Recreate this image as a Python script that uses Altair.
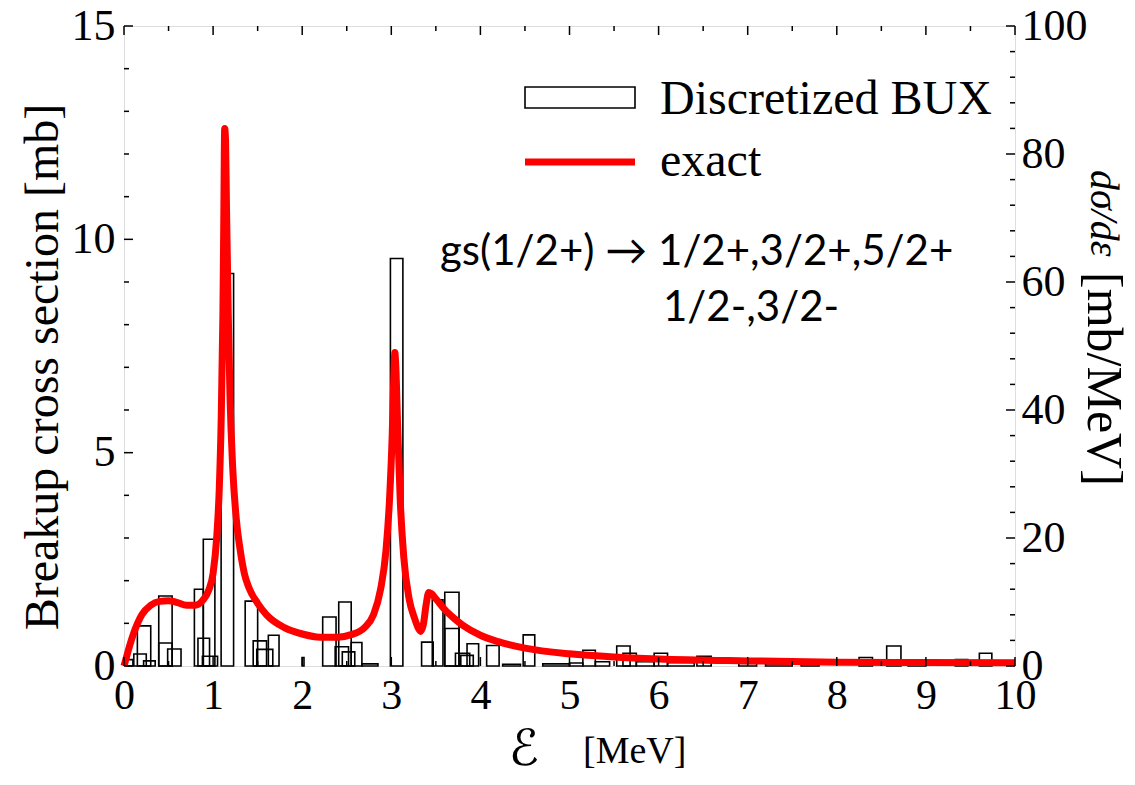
import altair as alt
import pandas as pd

# ---------------- data ----------------
bar_lo = [0.03, 0.11, 0.15, 0.22, 0.39, 0.39, 0.49, 0.79, 0.83, 0.88, 0.89, 1.09,
          1.36, 1.45, 1.49, 1.62, 2.00, 2.23, 2.37, 2.41, 2.45, 2.55, 2.67, 2.99,
          3.34, 3.46, 3.60, 3.60, 3.72, 3.78, 3.85, 4.07, 4.25, 4.48, 4.70, 5.00,
          5.15, 5.29, 5.53, 5.60, 5.75, 5.95, 6.10, 6.43, 6.90, 7.20, 7.60, 8.25,
          8.56, 8.80, 9.33, 9.60]
bar_hi = [0.10, 0.25, 0.30, 0.35, 0.54, 0.54, 0.64, 0.89, 0.96, 1.05, 1.02, 1.23,
          1.50, 1.60, 1.67, 1.74, 2.02, 2.38, 2.52, 2.55, 2.59, 2.67, 2.85, 3.13,
          3.47, 3.58, 3.76, 3.76, 3.88, 3.92, 3.98, 4.21, 4.45, 4.61, 5.00, 5.15,
          5.29, 5.45, 5.68, 5.75, 5.95, 6.10, 6.40, 6.59, 7.10, 7.50, 7.80, 8.40,
          8.72, 9.00, 9.47, 9.74]
bar_h = [0.15, 0.28, 0.94, 0.12, 1.64, 0.54, 0.40, 1.80, 0.65, 0.23, 2.97, 9.20,
         1.52, 0.59, 0.39, 0.72, 0.20, 1.15, 0.45, 1.50, 0.33, 0.55, 0.05, 9.55,
         0.56, 1.55, 1.73, 0.88, 0.30, 0.25, 0.52, 0.48, 0.04, 0.73, 0.05, 0.07,
         0.37, 0.10, 0.47, 0.30, 0.10, 0.30, 0.08, 0.23, 0.06, 0.05, 0.04, 0.20,
         0.47, 0.05, 0.15, 0.30]

curve_e = [0.0, 0.03, 0.06, 0.1, 0.15, 0.2, 0.3, 0.4, 0.5, 0.6, 0.7, 0.8, 0.88, 0.95,
           1.0, 1.04, 1.07, 1.09, 1.11, 1.12, 1.13, 1.14, 1.15, 1.17, 1.19, 1.22, 1.26,
           1.3, 1.35, 1.4, 1.5, 1.6, 1.8, 2.0, 2.2, 2.4, 2.55, 2.7, 2.8, 2.88, 2.94,
           2.98, 3.01, 3.03, 3.04, 3.05, 3.07, 3.1, 3.14, 3.2, 3.26, 3.3, 3.33, 3.36,
           3.39, 3.42, 3.45, 3.5, 3.6, 3.7, 3.8, 4.0, 4.2, 4.5, 5.0, 5.5, 6.0, 7.0,
           8.0, 9.0, 10.0]
curve_v = [0.0, 1.5, 3.0, 4.8, 6.6, 8.0, 9.5, 10.1, 10.2, 9.9, 9.5, 9.5, 10.2, 11.8,
           14.5, 20, 28, 38, 55, 70, 84, 82, 72, 55, 42, 31, 23,
           18.5, 14.5, 12.3, 9.8, 8.0, 6.0, 5.0, 4.5, 4.5, 4.9, 6.0, 8.0, 12, 18,
           26, 36, 46, 49, 47, 38, 26, 17, 10.5, 7.5, 6.0, 5.4, 6.5,
           9.5, 11.5, 11.3, 10.5, 8.8, 7.5, 6.4, 4.8, 3.8, 2.8, 1.9, 1.4, 1.1, 0.8,
           0.6, 0.55, 0.5]

x_major = [0, 1, 2, 3, 4, 5, 6, 7, 8, 9, 10]
x_minor = [0.5, 1.5, 2.5, 3.5, 4.5, 5.5, 6.5, 7.5, 8.5, 9.5]
yl_major = [0, 5, 10, 15]
yl_minor = [1, 2, 3, 4, 6, 7, 8, 9, 11, 12, 13, 14]
yr_major = [0, 20, 40, 60, 80, 100]
yr_minor = [4, 8, 12, 16, 24, 28, 32, 36, 44, 48, 52, 56, 64, 68, 72, 76, 84, 88, 92, 96]

W, H = 891, 640
SERIF = "Liberation Serif"
FSX = 42
FSY = 44
FST = 48

bars = pd.DataFrame({"lo": bar_lo, "hi": bar_hi, "h": bar_h})
curve = pd.DataFrame({"e": curve_e, "v": curve_v})

xsc = alt.Scale(domain=[0, 10], nice=False, zero=False)
ylsc = alt.Scale(domain=[0, 15], nice=False)
yrsc = alt.Scale(domain=[0, 100], nice=False)

bar_layer = alt.Chart(bars).mark_rect(fill="transparent", stroke="black", strokeWidth=1.6).encode(
    x=alt.X("lo:Q", scale=xsc, axis=alt.Axis(values=x_major, format="d", ticks=False, domain=False,
                                               grid=False, title=None, labelFont=SERIF, labelFontSize=FSX,
                                               labelColor="black", labelPadding=9, labelFlush=False)),
    x2="hi:Q",
    y=alt.Y("h:Q", scale=ylsc, axis=alt.Axis(values=yl_major, format="d", ticks=False, domain=False,
                                              grid=False, title=None, labelFont=SERIF, labelFontSize=FSY,
                                              labelColor="black", labelPadding=9, labelFlush=False)),
    y2=alt.datum(0),
)

line_layer = alt.Chart(curve).mark_line(color="#ff0000", strokeWidth=7, interpolate="monotone").encode(
    x=alt.X("e:Q", scale=xsc),
    y=alt.Y("v:Q", scale=yrsc, axis=alt.Axis(orient="right", values=yr_major, format="d", ticks=False,
                                              domain=False, grid=False, title=None, labelFont=SERIF,
                                              labelFontSize=FSY, labelColor="black", labelPadding=6,
                                              labelFlush=False)),
)

def xticks(vals, length):
    df = pd.DataFrame({"t": vals})
    bottom = alt.Chart(df).mark_rule(color="black", strokeWidth=1.5).encode(
        x=alt.X("t:Q", scale=xsc), y=alt.value(H), y2=alt.value(H - length))
    top = alt.Chart(df).mark_rule(color="black", strokeWidth=1.5).encode(
        x=alt.X("t:Q", scale=xsc), y=alt.value(0), y2=alt.value(length))
    return [bottom, top]

def yticks(vals, length, sc, right):
    df = pd.DataFrame({"t": vals})
    if right:
        xs = dict(x=alt.value(W), x2=alt.value(W - length))
    else:
        xs = dict(x=alt.value(0), x2=alt.value(length))
    return alt.Chart(df).mark_rule(color="black", strokeWidth=1.5).encode(
        y=alt.Y("t:Q", scale=sc, axis=None), **xs)

tick_layers = (xticks(x_major, 9) + xticks(x_minor, 5) +
               [yticks(yl_major, 9, ylsc, False), yticks(yl_minor, 5, ylsc, False),
                yticks(yr_major, 9, yrsc, True), yticks(yr_minor, 5, yrsc, True)])

one = pd.DataFrame({"a": [0]})

def txt(text, x, y, font=SERIF, size=FST, align="left", angle=0, style="normal", baseline="middle"):
    kw = dict(font=font, fontSize=size, align=align, baseline=baseline, color="black",
              fontStyle=style, text=text)
    if angle:
        kw["angle"] = angle
    return alt.Chart(one).mark_text(**kw).encode(x=alt.value(x), y=alt.value(y))

legend_box = alt.Chart(one).mark_rect(fill="transparent", stroke="black", strokeWidth=1.6).encode(
    x=alt.value(401), x2=alt.value(511), y=alt.value(61), y2=alt.value(82))
legend_line = alt.Chart(one).mark_rule(color="#ff0000", strokeWidth=7).encode(
    x=alt.value(401), x2=alt.value(511), y=alt.value(136))

texts = [
    txt("Discretized BUX", 536, 74),
    txt("exact", 536, 136),
    txt("gs(1/2+) \u2192 1/2+,3/2+,5/2+", 316, 226, font="Lato", size=42),
    txt("1/2-,3/2-", 539, 282, font="Lato", size=42),
    txt("Breakup cross section [mb]", -80, 341, align="center", angle=270),
    txt("d\u03c3/d\u03b5", 979, 144, align="left", angle=90, style="italic", size=40),
    txt("[mb/MeV]", 979, 246, align="left", angle=90, size=50),
    txt("\u2130", 400, 724, font="DejaVu Sans", size=50, align="center", style="italic"),
    txt("[MeV]", 459, 726, size=38),
]

chart = alt.layer(bar_layer, line_layer, *tick_layers, legend_box, legend_line, *texts).resolve_scale(
    y="independent"
).properties(
    width=W, height=H,
    autosize=alt.AutoSizeParams(type="none"),
    padding={"left": 124, "top": 26, "right": 120, "bottom": 119},
).configure_view(stroke="black", strokeWidth=2).configure(background="white")

chart.save("out.html", embed_options={"renderer": "svg", "actions": False})
